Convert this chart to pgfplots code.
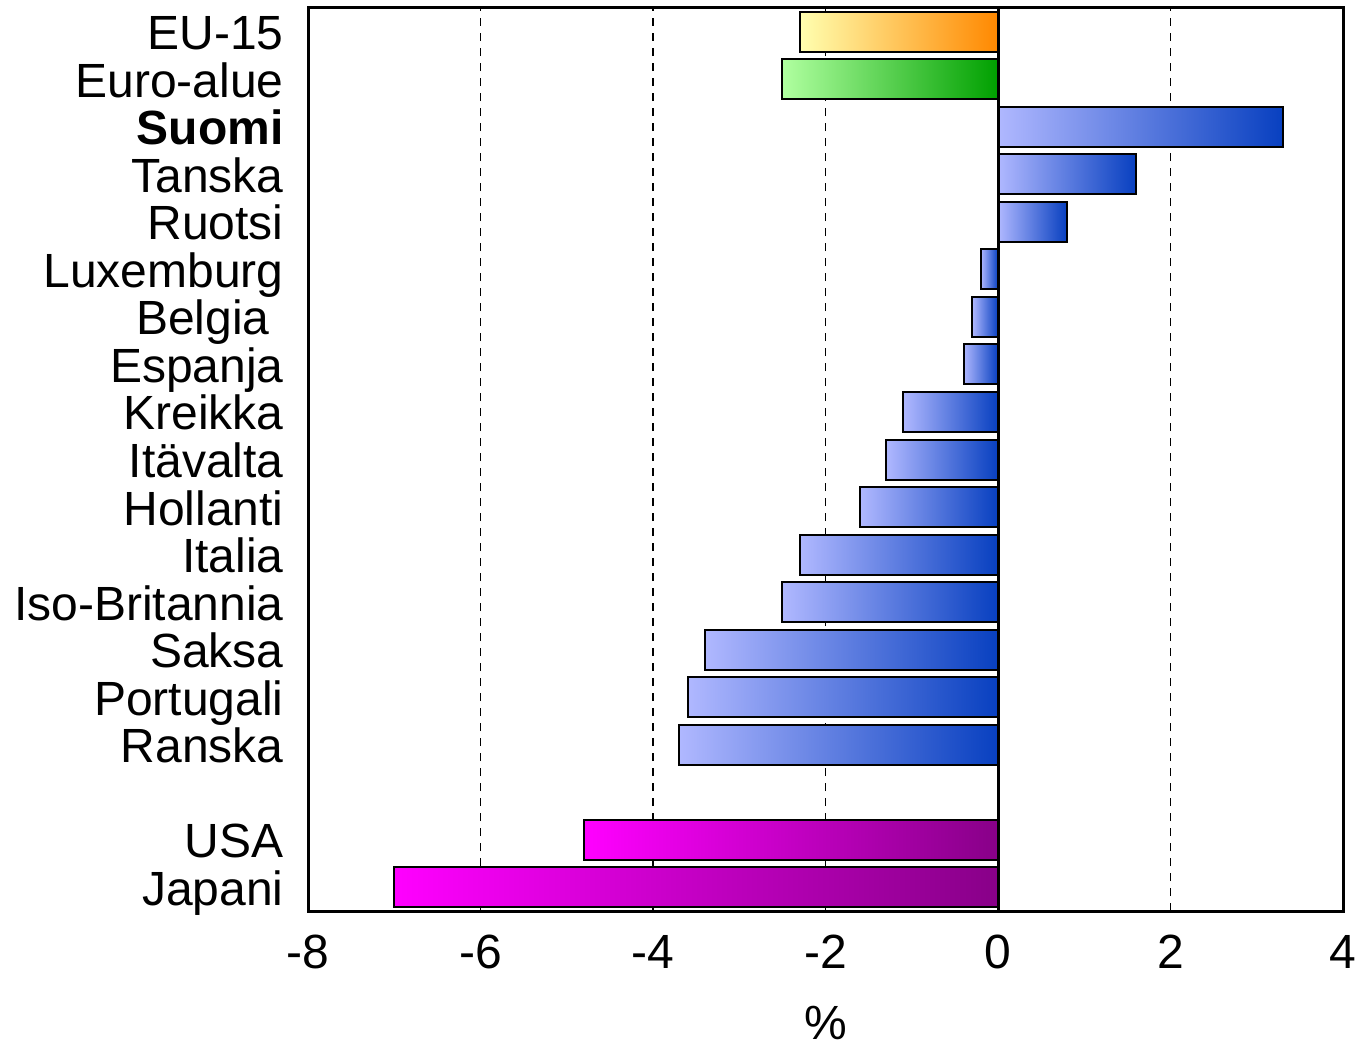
\documentclass[border=0pt]{standalone}
\usepackage{pgfplots}
\pgfplotsset{compat=1.18}
\usepackage{fontspec}
\setmainfont{Liberation Sans}
\definecolor{bluel}{HTML}{B0B8FF}
\definecolor{blued}{HTML}{0840C0}
\definecolor{yell}{HTML}{FFFFB0}
\definecolor{yeld}{HTML}{FF8800}
\definecolor{grel}{HTML}{B0FFA0}
\definecolor{gred}{HTML}{00A000}
\definecolor{magl}{HTML}{FF00FF}
\definecolor{magd}{HTML}{880088}
\newcommand{\bbar}[4]{\addplot[draw=black, line width=1pt, left color=#3, right color=#4] coordinates {(#1,#2)};}
\begin{document}
\fontsize{24pt}{28pt}\selectfont
\begin{tikzpicture}
\begin{axis}[
  name=ax,
  scale only axis,
  width=517.5pt, height=451.5pt,
  xmin=-8, xmax=4, ymin=-0.5, ymax=18.5,
  xtick={-8,-6,...,4},
  ytick={0,1,3,4,5,6,7,8,9,10,11,12,13,14,15,16,17,18},
  yticklabels={Japani,USA,Ranska,Portugali,Saksa,Iso-Britannia,Italia,Hollanti,Itävalta,Kreikka,Espanja,Belgia\hspace*{7pt},Luxemburg,Ruotsi,Tanska,\textbf{Suomi},Euro-alue,EU-15},
  major tick length=0pt,
  xmajorgrids,
  major grid style={black, line width=0.6pt, dash pattern=on 4pt off 3.5pt},
  axis line style={line width=1.5pt},
  tick label style={font=\fontsize{24pt}{28pt}\selectfont},
  /pgf/number format/assume math mode=true,
  xticklabel style={yshift=-4pt},
  yticklabel style={anchor=base east, xshift=-4pt, yshift=-9pt},
  xlabel={\%},
  xlabel style={font=\fontsize{24pt}{28pt}\selectfont, yshift=-2pt},
  xbar, bar width=20pt, bar shift=0pt,
]
\bbar{3.3}{16}{bluel}{blued}
\bbar{1.6}{15}{bluel}{blued}
\bbar{0.8}{14}{bluel}{blued}
\bbar{-0.2}{13}{bluel}{blued}
\bbar{-0.3}{12}{bluel}{blued}
\bbar{-0.4}{11}{bluel}{blued}
\bbar{-1.1}{10}{bluel}{blued}
\bbar{-1.3}{9}{bluel}{blued}
\bbar{-1.6}{8}{bluel}{blued}
\bbar{-2.3}{7}{bluel}{blued}
\bbar{-2.5}{6}{bluel}{blued}
\bbar{-3.4}{5}{bluel}{blued}
\bbar{-3.6}{4}{bluel}{blued}
\bbar{-3.7}{3}{bluel}{blued}
\bbar{-2.3}{18}{yell}{yeld}
\bbar{-2.5}{17}{grel}{gred}
\bbar{-4.8}{1}{magl}{magd}
\bbar{-7.0}{0}{magl}{magd}
\draw[line width=1.5pt] (axis cs:0,-0.5) -- (axis cs:0,18.5);
\end{axis}
\pgfresetboundingbox
\path ([shift={(-154pt,-70pt)}]ax.south west) rectangle ([shift={(8pt,4pt)}]ax.north east);
\end{tikzpicture}
\end{document}
